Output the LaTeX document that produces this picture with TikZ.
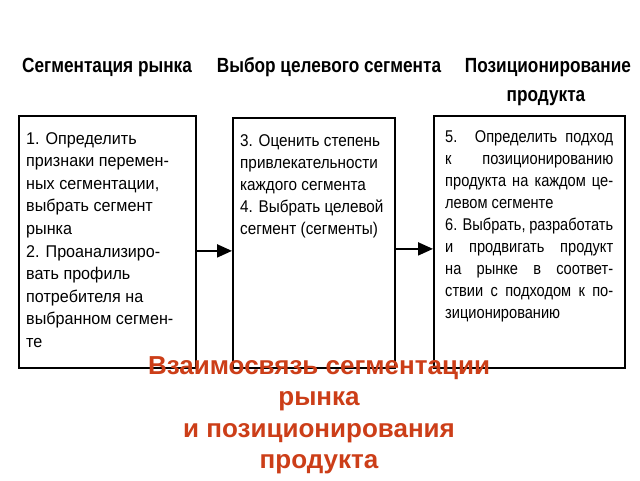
\documentclass[tikz,border=0pt]{standalone}
\usepackage{fontspec}
\setmainfont{Liberation Sans}
\newfontfamily\hdfont[FakeStretch=0.84]{Liberation Sans}
\newfontfamily\bdfont[FakeStretch=0.95]{Liberation Sans}
\newfontfamily\bdmfont[FakeStretch=0.9]{Liberation Sans}
\newfontfamily\bdnfont[FakeStretch=0.86]{Liberation Sans}
\usetikzlibrary{arrows.meta}
\definecolor{titlered}{RGB}{204,62,24}
\tikzset{
  box/.style={draw, line width=1.8pt, inner sep=0pt, anchor=north west},
  body/.style={anchor=north west, inner sep=0pt, align=left, font=\bdfont\fontsize{17}{22.6}\selectfont},
  bodyb/.style={body, font=\bdmfont\fontsize{17}{22}\selectfont},
  bodyc/.style={body, font=\bdnfont\fontsize{17}{22}\selectfont},
  head/.style={font=\hdfont\bfseries\fontsize{20.5}{24}\selectfont, inner sep=0pt, anchor=base},
  arr/.style={line width=2pt, -{Triangle[length=15pt,width=13pt]}},
  title/.style={anchor=north, align=center, text=titlered, inner sep=0pt, font=\bfseries\fontsize{26}{31.5}\selectfont},
}
\newcommand{\jl}[1]{\makebox[168pt][s]{#1}}
\begin{document}
\begin{tikzpicture}[x=1pt,y=-1pt]
\useasboundingbox[fill=white] (0,0) rectangle (640,480);
\node[head] (h1) at (107,72) {Сегментация рынка};
\node[head] (h2) at (329,72) {Выбор целевого сегмента};
\node[head] (h3) at (548,72) {Позиционирование};
\node[head] (h3b) at (546,101) {продукта};

\node[box, minimum width=177pt, minimum height=252pt] (b1) at (18,115) {};
\node[box, minimum width=162pt, minimum height=250pt] (b2) at (232,117) {};
\node[box, minimum width=191pt, minimum height=252pt] (b3) at (433,115) {};

\node[body] (t1) at (26,132) {1. Определить\\признаки перемен-\\ных сегментации,\\выбрать сегмент\\рынка\\2. Проанализиро-\\вать профиль\\потребителя на\\выбранном сегмен-\\те};
\node[bodyb] (t2) at (240,134) {3. Оценить степень\\привлекательности\\каждого сегмента\\4. Выбрать целевой\\сегмент (сегменты)};
\node[bodyc] (t3) at (445,130) {\jl{5. Определить подход}\\\jl{к позиционированию}\\\jl{продукта на каждом це-}\\левом сегменте\\\jl{6. Выбрать, разработать}\\\jl{и продвигать продукт}\\\jl{на рынке в соответ-}\\\jl{ствии с подходом к по-}\\зиционированию};

\draw[arr] ([yshift=-9pt]b1.east) -- ([yshift=-9pt]b1.east -| b2.west);
\draw[arr] ([yshift=-6pt]b2.east) -- ([yshift=-6pt]b2.east -| b3.west);

\node[title] (ttl) at (319,356) {Взаимосвязь сегментации\\рынка\\и позиционирования\\продукта};
\end{tikzpicture}
\end{document}
